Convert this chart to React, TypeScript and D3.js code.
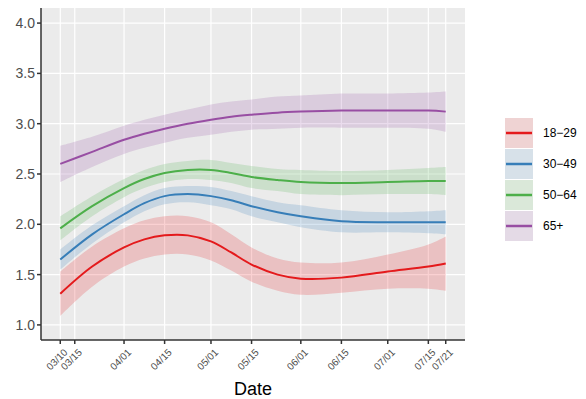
import * as d3 from 'd3';
import React from 'react';

// days since 03/10
const days = [0, 11, 22, 29, 36, 44, 52, 59, 66, 75, 83, 97, 113, 127, 133];

const groups = ['18\u221229', '30\u221249', '50\u221264', '65+'];
const colors = ['#E41A1C', '#377EB8', '#4DAF4A', '#984EA3'];

const red = [1.31, 1.58, 1.77, 1.85, 1.89, 1.89, 1.83, 1.72, 1.60, 1.50, 1.46, 1.47, 1.53, 1.58, 1.61];
const redSe = [0.22, 0.2, 0.19, 0.19, 0.19, 0.19, 0.19, 0.18, 0.17, 0.16, 0.16, 0.15, 0.17, 0.22, 0.27];
const blue = [1.65, 1.90, 2.10, 2.21, 2.28, 2.30, 2.28, 2.24, 2.18, 2.12, 2.08, 2.03, 2.02, 2.02, 2.02];
const blueSe = [0.1, 0.09, 0.08, 0.08, 0.08, 0.08, 0.09, 0.09, 0.1, 0.1, 0.11, 0.11, 0.1, 0.11, 0.12];
const green = [1.96, 2.18, 2.36, 2.45, 2.51, 2.54, 2.54, 2.51, 2.47, 2.44, 2.42, 2.41, 2.42, 2.43, 2.43];
const greenSe = [0.12, 0.1, 0.09, 0.09, 0.09, 0.09, 0.1, 0.1, 0.11, 0.11, 0.12, 0.12, 0.12, 0.13, 0.14];
const purple = [2.60, 2.72, 2.84, 2.90, 2.95, 3.00, 3.04, 3.07, 3.09, 3.11, 3.12, 3.13, 3.13, 3.13, 3.12];
const purpleSe = [0.18, 0.15, 0.14, 0.14, 0.14, 0.14, 0.15, 0.15, 0.15, 0.16, 0.16, 0.17, 0.17, 0.18, 0.2];

const series = [red, blue, green, purple];
const ses = [redSe, blueSe, greenSe, purpleSe];

const xTickDays = [0, 5, 22, 36, 52, 66, 83, 97, 113, 127, 133];
const xTickLabels = ['03/10', '03/15', '04/01', '04/15', '05/01', '05/15', '06/01', '06/15', '07/01', '07/15', '07/21'];
const yTicks = [1.0, 1.5, 2.0, 2.5, 3.0, 3.5, 4.0];

const W = 586;
const H = 399;
const font = '"Liberation Sans", Arial, Helvetica, sans-serif';

export default function App() {
  const left = 41, right = 465, top = 8, bottom = 340;
  const x = d3.scaleLinear().domain([-6.65, 139.65]).range([left, right]);
  const y = d3.scaleLinear().domain([0.85, 4.15]).range([bottom, top]);

  const line = d3.line<number>()
    .x((d, i) => x(days[i]))
    .y(d => y(d))
    .curve(d3.curveCatmullRom);

  const band = (vals: number[], se: number[]) =>
    d3.area<number>()
      .x((d, i) => x(days[i]))
      .y0((d, i) => y(vals[i] - se[i]))
      .y1((d, i) => y(vals[i] + se[i]))
      .curve(d3.curveCatmullRom)(vals);

  const legX = 505, legY0 = 118, legStep = 31;

  return (
    <svg width={W} height={H} style={{ position: 'absolute', left: 0, top: 0 }} fontFamily={font}>
      <rect width={W} height={H} fill="white" />
      <rect x={left} y={top} width={right - left} height={bottom - top} fill="#EBEBEB" />
      {yTicks.map(t => (
        <line key={'gy' + t} x1={left} x2={right} y1={y(t)} y2={y(t)} stroke="white" strokeWidth={1.2} />
      ))}
      {xTickDays.map(t => (
        <line key={'gx' + t} x1={x(t)} x2={x(t)} y1={top} y2={bottom} stroke="white" strokeWidth={1.2} />
      ))}

      {series.map((s, i) => (
        <path key={'b' + i} d={band(s, ses[i]) || ''} fill={colors[i]} fillOpacity={0.2} />
      ))}
      {series.map((s, i) => (
        <path key={'l' + i} d={line(s) || ''} fill="none" stroke={colors[i]} strokeWidth={2} />
      ))}

      <line x1={left} x2={left} y1={top} y2={bottom} stroke="#333" strokeWidth={1.5} />
      <line x1={left} x2={right} y1={bottom} y2={bottom} stroke="#333" strokeWidth={1.5} />

      {yTicks.map(t => (
        <g key={'ty' + t}>
          <line x1={left - 4} x2={left} y1={y(t)} y2={y(t)} stroke="#333" strokeWidth={1.5} />
          <text x={left - 6} y={y(t)} dy="0.35em" textAnchor="end" fontSize={14} fill="#4D4D4D">
            {t.toFixed(1)}
          </text>
        </g>
      ))}
      {xTickDays.map((t, i) => (
        <g key={'tx' + t}>
          <line x1={x(t)} x2={x(t)} y1={bottom} y2={bottom + 4} stroke="#333" strokeWidth={1.5} />
          <text
            transform={`translate(${x(t) + 3},${bottom + 8}) rotate(-45)`}
            textAnchor="end"
            dy="0.7em"
            fontSize={10}
            fill="#4D4D4D"
          >
            {xTickLabels[i]}
          </text>
        </g>
      ))}
      <text x={(left + right) / 2} y={395} textAnchor="middle" fontSize={18} fill="black">Date</text>

      {groups.map((g, i) => {
        const yy = legY0 + i * legStep;
        return (
          <g key={'lg' + i}>
            <rect x={legX} y={yy} width={28} height={30} fill="#F2F2F2" />
            <rect x={legX} y={yy} width={28} height={30} fill={colors[i]} fillOpacity={0.14} />
            <line x1={legX + 1} x2={legX + 27} y1={yy + 15} y2={yy + 15} stroke={colors[i]} strokeWidth={2.5} />
            <text x={legX + 38} y={yy + 15} dy="0.35em" fontSize={12} fill="black">{g}</text>
          </g>
        );
      })}
    </svg>
  );
}
